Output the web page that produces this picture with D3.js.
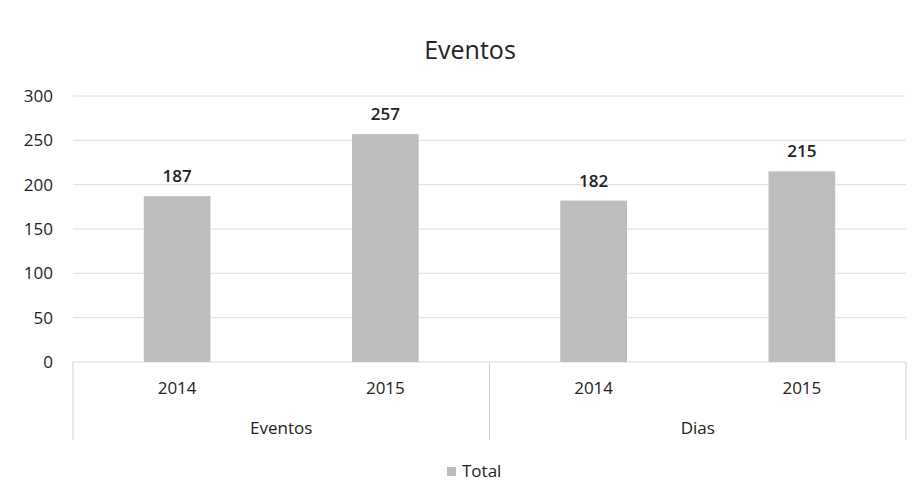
<!DOCTYPE html>
<html><head><meta charset="utf-8">
<script src="https://cdn.jsdelivr.net/npm/d3@7"></script>
<style>body{margin:0;background:#fff}svg{font-family:"Open Sans",Lato,sans-serif}</style>
</head><body>
<svg id="c" width="922" height="500"></svg>
<script>
const groups = ["Eventos", "Dias"];
const years = ["2014", "2015"];
const categories = [["Eventos","2014"],["Eventos","2015"],["Dias","2014"],["Dias","2015"]];
const values = [187, 257, 182, 215];
const yTicks = [0, 50, 100, 150, 200, 250, 300];
const title = "Eventos";
const seriesName = "Total";

(function(){
const svg = d3.select("#c");
const mL = 73, mR = 906, mT = 96, mB = 362;
const x = d3.scaleBand().domain(d3.range(categories.length)).range([mL, mR]).paddingInner(0.68).paddingOuter(0.34);
const y = d3.scaleLinear().domain([0, 300]).range([mB, mT]);
const txt = "#222";

svg.append("g").selectAll("line").data(yTicks).join("line")
  .attr("x1", mL).attr("x2", mR).attr("y1", d => y(d)).attr("y2", d => y(d))
  .attr("stroke", "#dcdcdc").attr("stroke-width", 1);

svg.append("g").selectAll("text").data(yTicks).join("text")
  .attr("x", 53).attr("y", d => y(d) + 6).attr("text-anchor", "end")
  .attr("font-size", 17).attr("fill", txt).text(d => d);

svg.append("g").selectAll("rect").data(values).join("rect")
  .attr("x", (d, i) => x(i)).attr("width", x.bandwidth())
  .attr("y", d => y(d)).attr("height", d => y(0) - y(d))
  .attr("fill", "#bdbdbd");

svg.append("g").selectAll("text").data(values).join("text")
  .attr("x", (d, i) => x(i) + x.bandwidth() / 2).attr("y", d => y(d) - 14)
  .attr("text-anchor", "middle").attr("font-size", 17).attr("font-weight", 600).attr("fill", txt)
  .text(d => d);

const step = x.step();
const axisG = svg.append("g").attr("stroke", "#d0d0d0").attr("stroke-width", 1);
[0, 2, 4].map(i => mL + i * step).forEach(bx => {
  axisG.append("line").attr("x1", bx).attr("x2", bx).attr("y1", mB).attr("y2", 440);
});

svg.append("g").selectAll("text").data(categories).join("text")
  .attr("x", (d, i) => x(i) + x.bandwidth() / 2).attr("y", 394)
  .attr("text-anchor", "middle").attr("font-size", 17).attr("fill", txt).text(d => d[1]);

svg.append("g").selectAll("text").data(groups).join("text")
  .attr("x", (d, i) => mL + (i * 2 + 1) * step).attr("y", 434)
  .attr("text-anchor", "middle").attr("font-size", 17).attr("fill", txt).text(d => d);

svg.append("text").attr("x", 470).attr("y", 59).attr("text-anchor", "middle")
  .attr("font-size", 25).attr("fill", txt).text(title);

const lg = svg.append("g").attr("transform", "translate(447,467)");
lg.append("rect").attr("x", 0).attr("y", 0).attr("width", 9).attr("height", 9).attr("fill", "#bdbdbd");
lg.append("text").attr("x", 15).attr("y", 10).attr("font-size", 17).attr("fill", txt).text(seriesName);
})();
</script>
</body></html>
